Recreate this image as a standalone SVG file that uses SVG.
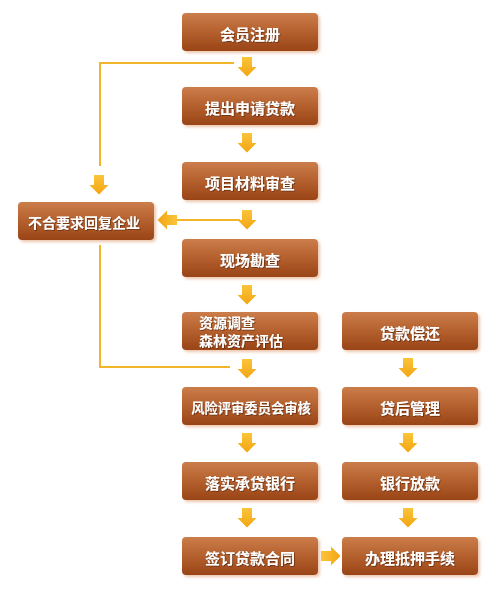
<svg xmlns="http://www.w3.org/2000/svg" width="495" height="591" viewBox="0 0 495 591">
<defs>
<linearGradient id="boxg" x1="0" y1="0" x2="0" y2="1">
<stop offset="0" stop-color="#cb7d4a"/>
<stop offset="0.5" stop-color="#b4602e"/>
<stop offset="1" stop-color="#9a4417"/>
</linearGradient>
<linearGradient id="arrg" x1="0" y1="0" x2="0" y2="1">
<stop offset="0" stop-color="#fbc43a"/>
<stop offset="1" stop-color="#f2a512"/>
</linearGradient>
<filter id="ts" x="-10%" y="-30%" width="120%" height="160%">
<feDropShadow dx="0.8" dy="0.8" stdDeviation="0.6" flood-color="#4a1a00" flood-opacity="0.7"/>
</filter>
<filter id="bs" x="-10%" y="-20%" width="125%" height="150%">
<feDropShadow dx="2" dy="2" stdDeviation="1.5" flood-color="#e8b89a" flood-opacity="0.8"/>
</filter>
<path id="darr" d="M-5,0 H5 V10 H9.5 L0,19.5 L-9.5,10 H-5 Z" fill="url(#arrg)"/>
</defs>
<style>
.box{fill:url(#boxg);filter:url(#bs)}
.t{font-family:"Noto Sans CJK SC","Noto Sans CJK JP",sans-serif;font-weight:bold;font-size:15px;fill:#ffffff;text-anchor:middle;filter:url(#ts)}
.ln{fill:none;stroke:#f2b52a;stroke-width:2}
</style>
<rect width="495" height="591" fill="#ffffff"/>

<g id="connectors">
<polyline class="ln" points="234,63 100,63 100,166"/>
<line class="ln" x1="176" y1="220" x2="240" y2="220"/>
<polyline class="ln" points="100,245 100,367 230,367"/>
<use href="#darr" transform="translate(247,57)"/>
<use href="#darr" transform="translate(247,133)"/>
<use href="#darr" transform="translate(247,210)"/>
<use href="#darr" transform="translate(247,285)"/>
<use href="#darr" transform="translate(247,359)"/>
<use href="#darr" transform="translate(247,433)"/>
<use href="#darr" transform="translate(247,508)"/>
<use href="#darr" transform="translate(99,175)"/>
<use href="#darr" transform="translate(408,358)"/>
<use href="#darr" transform="translate(408,433)"/>
<use href="#darr" transform="translate(408,508)"/>
<use href="#darr" transform="translate(177,220) rotate(90)"/>
<use href="#darr" transform="translate(321,556) rotate(-90)"/>
</g>

<g id="n1"><rect class="box" x="182" y="13" width="136" height="38" rx="4"/><text class="t" x="250" y="40">会员注册</text></g>
<g id="n2"><rect class="box" x="182" y="87" width="136" height="38" rx="4"/><text class="t" x="250" y="114">提出申请贷款</text></g>
<g id="n3"><rect class="box" x="182" y="162" width="136" height="38" rx="4"/><text class="t" x="250" y="189">项目材料审查</text></g>
<g id="n_reject"><rect class="box" x="18" y="202" width="136" height="38" rx="4"/><text class="t" x="84" y="228" style="font-size:14px">不合要求回复企业</text></g>
<g id="n4"><rect class="box" x="182" y="239" width="136" height="38" rx="4"/><text class="t" x="250" y="266">现场勘查</text></g>
<g id="n5"><rect class="box" x="182" y="312" width="136" height="38" rx="4"/><text class="t" style="text-anchor:start;font-size:14px"><tspan x="199" y="327.5">资源调查</tspan><tspan x="199" y="345.5">森林资产评估</tspan></text></g>
<g id="n6"><rect class="box" x="182" y="387" width="136" height="38" rx="4"/><text class="t" x="251" y="413" style="font-size:13.3px">风险评审委员会审核</text></g>
<g id="n7"><rect class="box" x="182" y="462" width="136" height="38" rx="4"/><text class="t" x="250" y="489">落实承贷银行</text></g>
<g id="n8"><rect class="box" x="182" y="537" width="136" height="38" rx="4"/><text class="t" x="250" y="564">签订贷款合同</text></g>
<g id="r1"><rect class="box" x="342" y="312" width="136" height="38" rx="4"/><text class="t" x="410" y="339">贷款偿还</text></g>
<g id="r2"><rect class="box" x="342" y="387" width="136" height="38" rx="4"/><text class="t" x="410" y="414">贷后管理</text></g>
<g id="r3"><rect class="box" x="342" y="462" width="136" height="38" rx="4"/><text class="t" x="410" y="489">银行放款</text></g>
<g id="r4"><rect class="box" x="342" y="537" width="136" height="38" rx="4"/><text class="t" x="410" y="564">办理抵押手续</text></g>
</svg>
